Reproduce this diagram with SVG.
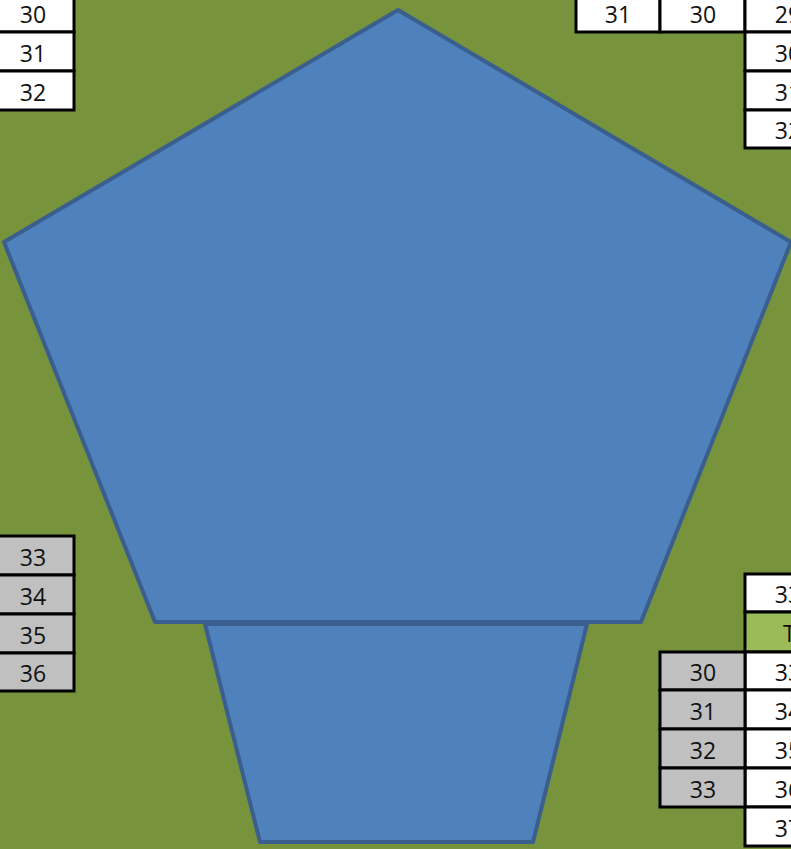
<svg xmlns="http://www.w3.org/2000/svg" width="791" height="849" viewBox="0 0 791 849">
<style>
.c{stroke:#000;stroke-width:3;fill:#fff}
.g{stroke:#000;stroke-width:3;fill:#c0c0c0}
.gr{stroke:#000;stroke-width:3;fill:#9bbb59}
.t{font-family:"Open Sans","Liberation Sans",sans-serif;font-size:23px;fill:#111;text-anchor:middle}
.sh{fill:#4f81bd;stroke:#3a5f8e;stroke-width:4;stroke-linejoin:round}
</style>
<rect x="0" y="0" width="791" height="849" fill="#77933c"/>
<g id="table-top-left">
<rect class="c" x="-10" y="-7" width="84" height="39"/>
<rect class="c" x="-10" y="32" width="84" height="39"/>
<rect class="c" x="-10" y="71" width="84" height="39"/>
<text class="t" x="33" y="23">30</text>
<text class="t" x="33" y="62">31</text>
<text class="t" x="33" y="101">32</text>
</g>
<g id="table-top-right">
<rect class="c" x="576" y="-7" width="84" height="39"/>
<rect class="c" x="660" y="-7" width="85" height="39"/>
<rect class="c" x="745" y="-7" width="85" height="39"/>
<rect class="c" x="745" y="32" width="85" height="39"/>
<rect class="c" x="745" y="71" width="85" height="39"/>
<rect class="c" x="745" y="110" width="85" height="38"/>
<text class="t" x="618" y="23">31</text>
<text class="t" x="703" y="23">30</text>
<text class="t" x="788" y="23">29</text>
<text class="t" x="788" y="62">30</text>
<text class="t" x="788" y="101">31</text>
<text class="t" x="788" y="139">32</text>
</g>
<g id="table-bottom-left">
<rect class="g" x="-10" y="536" width="84" height="39"/>
<rect class="g" x="-10" y="575" width="84" height="39"/>
<rect class="g" x="-10" y="614" width="84" height="39"/>
<rect class="g" x="-10" y="653" width="84" height="38"/>
<text class="t" x="33" y="566">33</text>
<text class="t" x="33" y="605">34</text>
<text class="t" x="33" y="644">35</text>
<text class="t" x="33" y="682">36</text>
</g>
<g id="table-bottom-right">
<rect class="c" x="745" y="574" width="85" height="38"/>
<rect class="gr" x="745" y="612" width="85" height="40"/>
<rect class="c" x="745" y="652" width="85" height="38"/>
<rect class="c" x="745" y="690" width="85" height="39"/>
<rect class="c" x="745" y="729" width="85" height="39"/>
<rect class="c" x="745" y="768" width="85" height="39"/>
<rect class="c" x="745" y="807" width="85" height="39"/>
<rect class="g" x="660" y="652" width="85" height="38"/>
<rect class="g" x="660" y="690" width="85" height="39"/>
<rect class="g" x="660" y="729" width="85" height="39"/>
<rect class="g" x="660" y="768" width="85" height="39"/>
<text class="t" x="788" y="603">33</text>
<text class="t" x="783" y="642" style="text-anchor:start">T</text>
<text class="t" x="788" y="681">33</text>
<text class="t" x="788" y="720">34</text>
<text class="t" x="788" y="759">35</text>
<text class="t" x="788" y="798">36</text>
<text class="t" x="788" y="837">37</text>
<text class="t" x="703" y="681">30</text>
<text class="t" x="703" y="720">31</text>
<text class="t" x="703" y="759">32</text>
<text class="t" x="703" y="798">33</text>
</g>
<g id="trapezoid">
<polygon class="sh" points="205,624 587,624 533,842 260,842"/>
</g>
<g id="pentagon">
<polygon class="sh" points="398,10 791,242 641,622 155,622 4,242"/>
</g>
</svg>
